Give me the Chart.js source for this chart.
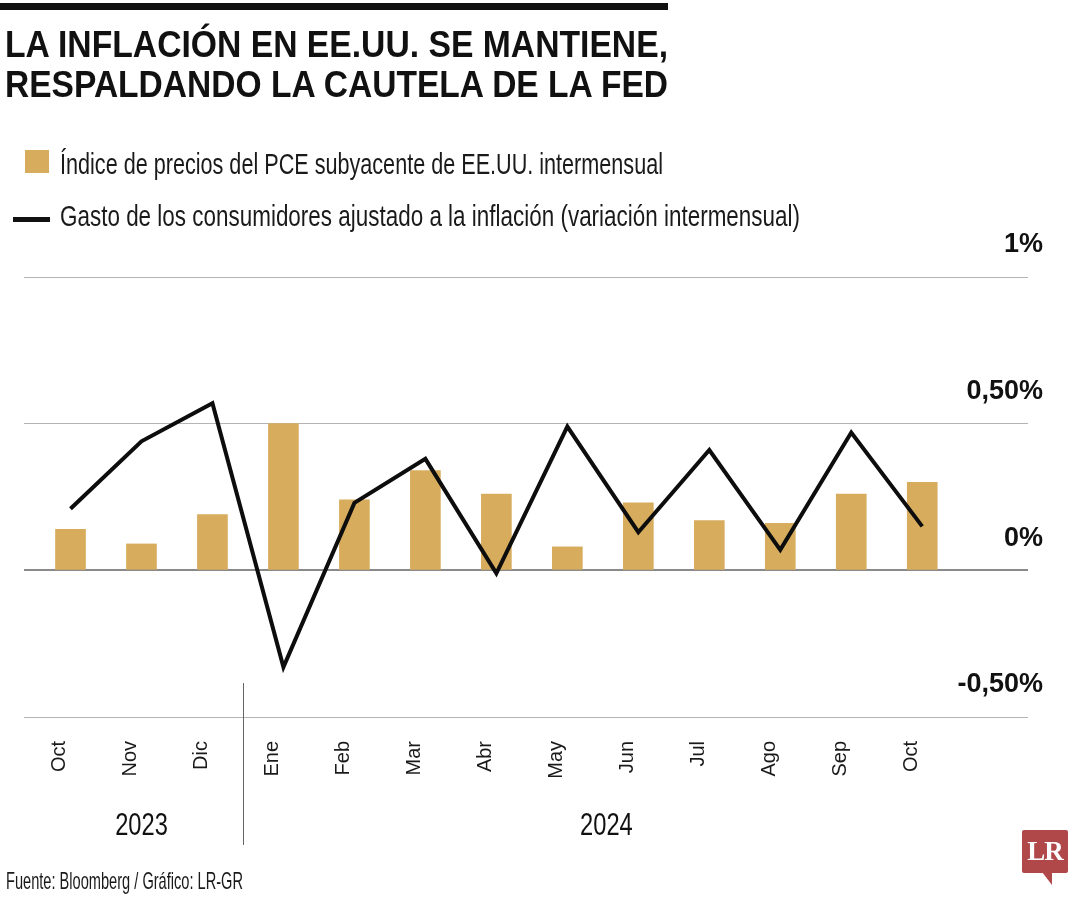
<!DOCTYPE html>
<html><head><meta charset="utf-8">
<script src="https://cdn.jsdelivr.net/npm/chart.js@4.4.1/dist/chart.umd.min.js"></script>
<style>
html,body{margin:0;padding:0;background:#fff;}
#wrap{position:relative;width:1080px;height:900px;overflow:hidden;background:#fff;}
#c{position:absolute;left:0;top:0;}
.t{position:absolute;white-space:nowrap;transform-origin:0 0;line-height:1;}
#topbar{position:absolute;left:0;top:3px;width:668px;height:7px;background:#111;}
.title{font-family:"Liberation Sans Narrow","Liberation Sans",sans-serif;font-weight:bold;font-size:36px;color:#111;}
.leg{font-family:"Liberation Sans Narrow","Liberation Sans",sans-serif;font-size:30px;color:#1a1a1a;}
#sq{position:absolute;left:25px;top:150px;width:24px;height:23px;background:#D7AC5D;}
#ln{position:absolute;left:13px;top:217px;width:37px;height:5px;background:#111;}
.src{font-family:"Liberation Sans Narrow","Liberation Sans",sans-serif;font-size:24px;color:#1a1a1a;}
#logo{position:absolute;left:1022px;top:830px;width:46px;height:43px;background:#B0484A;border-radius:2px;}
#logo span{position:absolute;left:0;top:0;width:46px;height:43px;display:flex;align-items:center;justify-content:center;color:#fff;font-family:"Liberation Serif",serif;font-weight:bold;font-size:27px;letter-spacing:-1px;}
#tail{position:absolute;left:1042px;top:872px;width:0;height:0;border-left:10px solid transparent;border-right:0 solid transparent;border-top:13px solid #B0484A;}
</style></head>
<body><div id="wrap">
<canvas id="c" width="1080" height="900"></canvas>
<div id="topbar"></div>
<div class="t title" id="t1" data-x="5" data-base="57" data-w="663">LA INFLACIÓN EN EE.UU. SE MANTIENE,</div>
<div class="t title" id="t2" data-x="5" data-base="97" data-w="663">RESPALDANDO LA CAUTELA DE LA FED</div>
<div id="sq"></div>
<div class="t leg" id="l1" data-x="60" data-base="174" data-w="603">Índice de precios del PCE subyacente de EE.UU. intermensual</div>
<div id="ln"></div>
<div class="t leg" id="l2" data-x="60" data-base="226" data-w="740">Gasto de los consumidores ajustado a la inflación (variación intermensual)</div>
<div class="t src" id="s1" data-x="6" data-base="889" data-w="237">Fuente: Bloomberg / Gráfico: LR-GR</div>
<div id="logo"><span>LR</span></div>
<div id="tail"></div>
</div>
<script>
// ---- data ----
const months = ['Oct','Nov','Dic','Ene','Feb','Mar','Abr','May','Jun','Jul','Ago','Sep','Oct'];
const pceCore = [0.14, 0.09, 0.19, 0.50, 0.24, 0.34, 0.26, 0.08, 0.23, 0.17, 0.16, 0.26, 0.30];
const realSpending = [0.21, 0.44, 0.57, -0.33, 0.23, 0.38, -0.01, 0.49, 0.13, 0.41, 0.07, 0.47, 0.15];
const yTickValues = [-0.5, 0, 0.5, 1];
const yTickLabels = ['-0,50%', '0%', '0,50%', '1%'];
const years = ['2023', '2024'];
const seriesNames = ['Índice de precios del PCE subyacente de EE.UU. intermensual',
  'Gasto de los consumidores ajustado a la inflación (variación intermensual)'];

// ---- text placement (fit to measured widths) ----
document.querySelectorAll('.t').forEach(el => {
  const x = +el.dataset.x, base = +el.dataset.base, w = +el.dataset.w;
  const probe = document.createElement('span');
  probe.style.display = 'inline-block'; probe.style.width = '0'; probe.style.height = '0';
  probe.style.verticalAlign = 'baseline';
  el.appendChild(probe);
  const r0 = el.getBoundingClientRect();
  const pb = probe.getBoundingClientRect().top - r0.top;
  el.removeChild(probe);
  const nat = el.getBoundingClientRect().width;
  el.style.left = x + 'px';
  el.style.top = (base - pb) + 'px';
  el.style.transform = 'scaleX(' + (w / nat) + ')';
});

const condensed = '"Liberation Sans Narrow", "Liberation Sans", sans-serif';

const yearPlugin = {
  id: 'years',
  afterDraw(chart) {
    const {ctx, scales: {x}} = chart;
    ctx.save();
    const sx = Math.round(x.getPixelForValue(2.43)) + 0.5;
    ctx.strokeStyle = '#666';
    ctx.lineWidth = 1;
    ctx.beginPath(); ctx.moveTo(sx, 683); ctx.lineTo(sx, 845); ctx.stroke();
    ctx.fillStyle = '#111';
    ctx.font = '32px ' + condensed;
    ctx.textAlign = 'center';
    ctx.textBaseline = 'alphabetic';
    const centers = [1, 7.55];
    years.forEach((yr, i) => {
      ctx.save();
      ctx.translate(x.getPixelForValue(centers[i]), 835);
      ctx.scale(0.74, 1);
      ctx.fillText(yr, 0, 0);
      ctx.restore();
    });
    ctx.restore();
  }
};

const xMin = -0.655, xMax = 13.49;

new Chart(document.getElementById('c'), {
  type: 'bar',
  data: {
    datasets: [
      {
        type: 'line',
        label: seriesNames[1],
        data: realSpending.map((v, i) => ({x: i, y: v})),
        borderColor: '#0d0d0d',
        borderWidth: 4,
        pointRadius: 0,
        tension: 0,
        borderJoinStyle: 'miter',
        order: 0
      },
      {
        type: 'bar',
        label: seriesNames[0],
        data: pceCore.map((v, i) => ({x: i, y: v})),
        backgroundColor: '#D7AC5D',
        barThickness: 30,
        order: 1
      }
    ]
  },
  options: {
    responsive: false,
    animation: false,
    devicePixelRatio: 1,
    layout: {padding: {left: 24, right: 37, top: 277, bottom: 83}},
    plugins: {legend: {display: false}, tooltip: {enabled: false}, title: {display: false}},
    scales: {
      x: {
        type: 'linear',
        min: xMin, max: xMax,
        offset: false,
        grid: {display: false, drawTicks: false},
        border: {display: false},
        ticks: {
          stepSize: 1,
          includeBounds: false,
          autoSkip: false,
          minRotation: 90, maxRotation: 90,
          padding: 24,
          labelOffset: -11,
          color: '#1a1a1a',
          font: {family: condensed, size: 20},
          callback: (v) => {
            const r = Math.round(v);
            return (Math.abs(v - r) < 1e-6 && months[r] !== undefined) ? months[r] : '';
          }
        },
        afterFit: (s) => { s.height = 100; }
      },
      y: {
        position: 'right',
        min: -0.5, max: 1,
        grid: {
          drawTicks: false,
          color: (ctx) => (ctx.tick && ctx.tick.value === 0) ? '#8a8a8a' : '#b4b4b4',
          lineWidth: (ctx) => (ctx.tick && ctx.tick.value === 0) ? 2 : 1
        },
        border: {display: false},
        afterBuildTicks: (s) => { s.ticks = yTickValues.map(v => ({value: v})); },
        afterFit: (s) => { s.width = 15; },
        ticks: {
          mirror: true,
          padding: 15,
          labelOffset: -32,
          color: '#111',
          font: {family: condensed, size: 27, weight: 'bold'},
          callback: (v) => {
            const i = yTickValues.indexOf(v);
            return i >= 0 ? yTickLabels[i] : '';
          }
        }
      }
    }
  },
  plugins: [yearPlugin]
});
</script>
</body></html>
